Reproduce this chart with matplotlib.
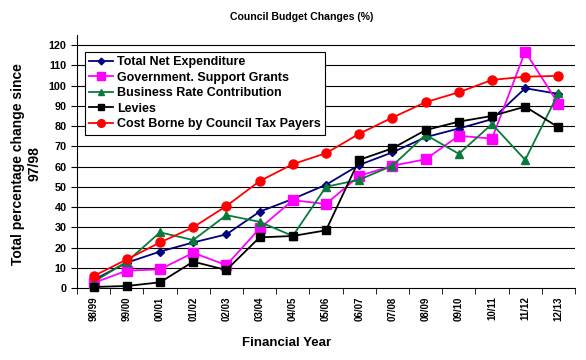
import numpy as np
import matplotlib.pyplot as plt

plt.rcParams['font.family'] = ['Liberation Sans', 'DejaVu Sans']

years = ['98/99', '99/00', '00/01', '01/02', '02/03', '03/04', '04/05', '05/06',
         '06/07', '07/08', '08/09', '09/10', '10/11', '11/12', '12/13']

total_net = [4, 12.5, 18, 22.5, 26.5, 37.7, 44, 51, 60.8, 67, 74.5, 78.8, 83.4, 98.7, 95.9]
gov_grants = [2.5, 8.6, 9.2, 17.4, 11.3, 29.4, 43.4, 41.5, 55.4, 60.4, 63.6, 75.2, 73.8, 116.8, 91]
business_rate = [3, 13, 27.5, 23.7, 36, 32.7, 25.7, 50, 53.5, 60.4, 75.7, 66.3, 81, 63.3, 96.2]
levies = [0.5, 1, 2.8, 13, 8.9, 25, 25.7, 28.5, 63.3, 69, 78, 82.2, 85, 89.6, 79.4]
council_tax = [5.9, 14.1, 22.5, 30, 40.5, 52.8, 61.2, 66.6, 76.2, 84.2, 91.8, 96.7, 102.8, 104.4, 104.8]

series = [
    ('Total Net Expenditure', total_net, '#000080', 'D', 4),
    ('Government. Support Grants', gov_grants, '#FF00FF', 's', 6.5),
    ('Business Rate Contribution', business_rate, '#0A7A3A', '^', 5.5),
    ('Levies', levies, '#000000', 's', 5.5),
    ('Cost Borne by Council Tax Payers', council_tax, '#FF0000', 'o', 6.5),
]

fig = plt.figure(figsize=(5.86, 3.6), dpi=100)
ax = fig.add_axes([77 / 586, 72 / 360, 498 / 586, 253 / 360])

x = np.arange(len(years))
for name, vals, col, mk, ms in series:
    ax.plot(x, vals, color=col, marker=mk, markersize=ms, linewidth=1.3,
            label=name, clip_on=False, zorder=3)

ax.set_xlim(-0.5, len(years) - 0.5)
ax.set_ylim(0, 125)
ax.set_yticks(np.arange(0, 121, 10))
for yv in np.arange(10, 121, 10):
    ax.axhline(yv, color='black', linewidth=0.8, zorder=1)

ax.set_xticks(x)
ax.set_xticklabels(years, rotation=90, fontsize=7, fontweight='bold')
ax.set_xticks(np.arange(-0.5, len(years), 1), minor=True)
ax.tick_params(axis='x', which='major', length=0, pad=6)
ax.tick_params(axis='x', which='minor', length=4, direction='out')
ax.tick_params(axis='y', labelsize=7.8, length=4, direction='out')
for lab in ax.get_yticklabels():
    lab.set_fontweight('bold')

ax.spines['top'].set_visible(False)
ax.spines['right'].set_visible(False)

ax.set_xlabel('Financial Year', fontsize=9.5, fontweight='bold')
ax.xaxis.set_label_coords(0.42, -0.193)
ax.set_ylabel('Total percentage change since\n97/98', fontsize=10,
              fontweight='bold')
ax.yaxis.set_label_coords(-0.072, 0.49)
fig.text(302 / 586, 1 - 17.5 / 360, 'Council Budget Changes (%)', ha='center',
         va='center', fontsize=7.6, fontweight='bold')

leg = ax.legend(loc='upper left', bbox_to_anchor=(0.016, 0.933), borderaxespad=0,
                fancybox=False, edgecolor='black', framealpha=1,
                prop={'size': 9, 'weight': 'bold'}, handlelength=1.9,
                labelspacing=0.28, borderpad=0.35, handletextpad=0.3,
                markerscale=0.85)
leg.get_frame().set_linewidth(0.8)
leg.set_zorder(5)

fig.savefig('out.png', dpi=100)
